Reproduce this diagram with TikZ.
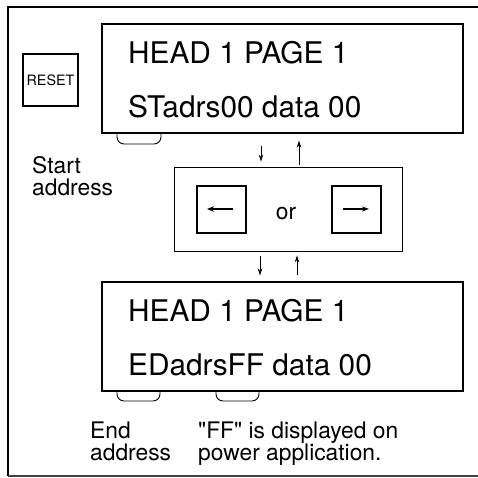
\documentclass[tikz,border=0pt]{standalone}
\usepackage{fontspec}
\setmainfont{TeX Gyre Heros}
\usetikzlibrary{arrows.meta}
\begin{document}
\begin{tikzpicture}[x=1pt,y=-1pt,
  lcd/.style={draw, line width=1.1pt, minimum width=361pt, minimum height=109pt, inner sep=0pt},
  lcdtxt/.style={anchor=base west, inner sep=0pt, font=\fontsize{29.8}{32}\selectfont},
  lbl/.style={anchor=base west, inner sep=0pt, align=left, font=\fontsize{22.8}{22}\selectfont},
  keybox/.style={draw, line width=1.6pt, minimum width=49pt, minimum height=47pt, inner sep=0pt},
  panel/.style={draw, line width=0.9pt, minimum width=228pt, minimum height=84pt, inner sep=0pt},
  bump/.style={draw, line width=0.9pt, rounded corners=7pt},
  arr/.style={line width=0.8pt, -{Stealth[length=7pt,width=4.5pt]}},
  keyarr/.style={line width=1.6pt, -{Stealth[length=7pt,width=5.5pt]}}]
\useasboundingbox (0,0) rectangle (478,477);
% frame
\draw[line width=2pt] (8,476) -- (8,7) -- (478,7);
\draw[line width=1.2pt, black!75] (8,476) -- (478,476);
% RESET key
\node[draw, line width=1.4pt, minimum width=55pt, minimum height=52pt, inner sep=0pt,
      font=\fontsize{14.3}{16}\selectfont] (reset) at (50.5,80) {RESET};
% top display
\node[lcd] (lcdA) at (282.5,78.5) {};
\node[lcdtxt] (a1) at (128,63) {HEAD 1 PAGE 1};
\node[lcdtxt] (a2) at (128,117) {STadrs00 data 00};
\draw[bump] (lcdA.south -| 117,0) -- (117,144) -- (161,144) -- (lcdA.south -| 161,0);
\node[lbl] (start) at (32,195) {Start\\address};
% middle panel
\node[panel] (mid) at (288,209) {};
\node[keybox] (kl) at (221.5,209.5) {};
\node[keybox] (kr) at (356.5,209.5) {};
\node[anchor=base, inner sep=0pt, font=\fontsize{22.8}{24}\selectfont] (or) at (286,219) {or};
\coordinate (klr) at (233,209); \coordinate (kll) at (207,209);
\coordinate (krl) at (343,209); \coordinate (krr) at (369,209);
\draw[keyarr] (klr) -- (kll);
\draw[line width=1.1pt, -{Stealth[length=7pt,width=5pt]}] (krl) -- (krr);
% bottom display
\node[lcd] (lcdB) at (282.5,336.5) {};
\node[lcdtxt] (b1) at (128,321) {HEAD 1 PAGE 1};
\node[lcdtxt] (b2) at (128,375) {EDadrsFF data 00};
\draw[bump] (lcdB.south -| 117,0) -- (117,401) -- (160,401) -- (lcdB.south -| 160,0);
\draw[bump] (lcdB.south -| 216,0) -- (216,401) -- (259,401) -- (lcdB.south -| 259,0);
\node[lbl] (endl) at (90,460) {End\\address};
\node[lbl] (ffl) at (198,460) {\textquotedbl FF\textquotedbl{} is displayed on\\power application.};
% connectors
\coordinate (x1) at (261,0); \coordinate (x2) at (299,0);
\coordinate (x3) at (260,0); \coordinate (x4) at (297,0);
\draw[arr, shorten <=12pt, shorten >=5pt] (lcdA.south -| x1) -- (mid.north -| x1);
\draw[arr, shorten <=2pt, shorten >=7pt] (mid.north -| x2) -- (lcdA.south -| x2);
\draw[arr, shorten <=5pt, shorten >=6pt] (mid.south -| x3) -- (lcdB.north -| x3);
\draw[arr, shorten <=6pt, shorten >=4pt] (lcdB.north -| x4) -- (mid.south -| x4);
\end{tikzpicture}
\end{document}
